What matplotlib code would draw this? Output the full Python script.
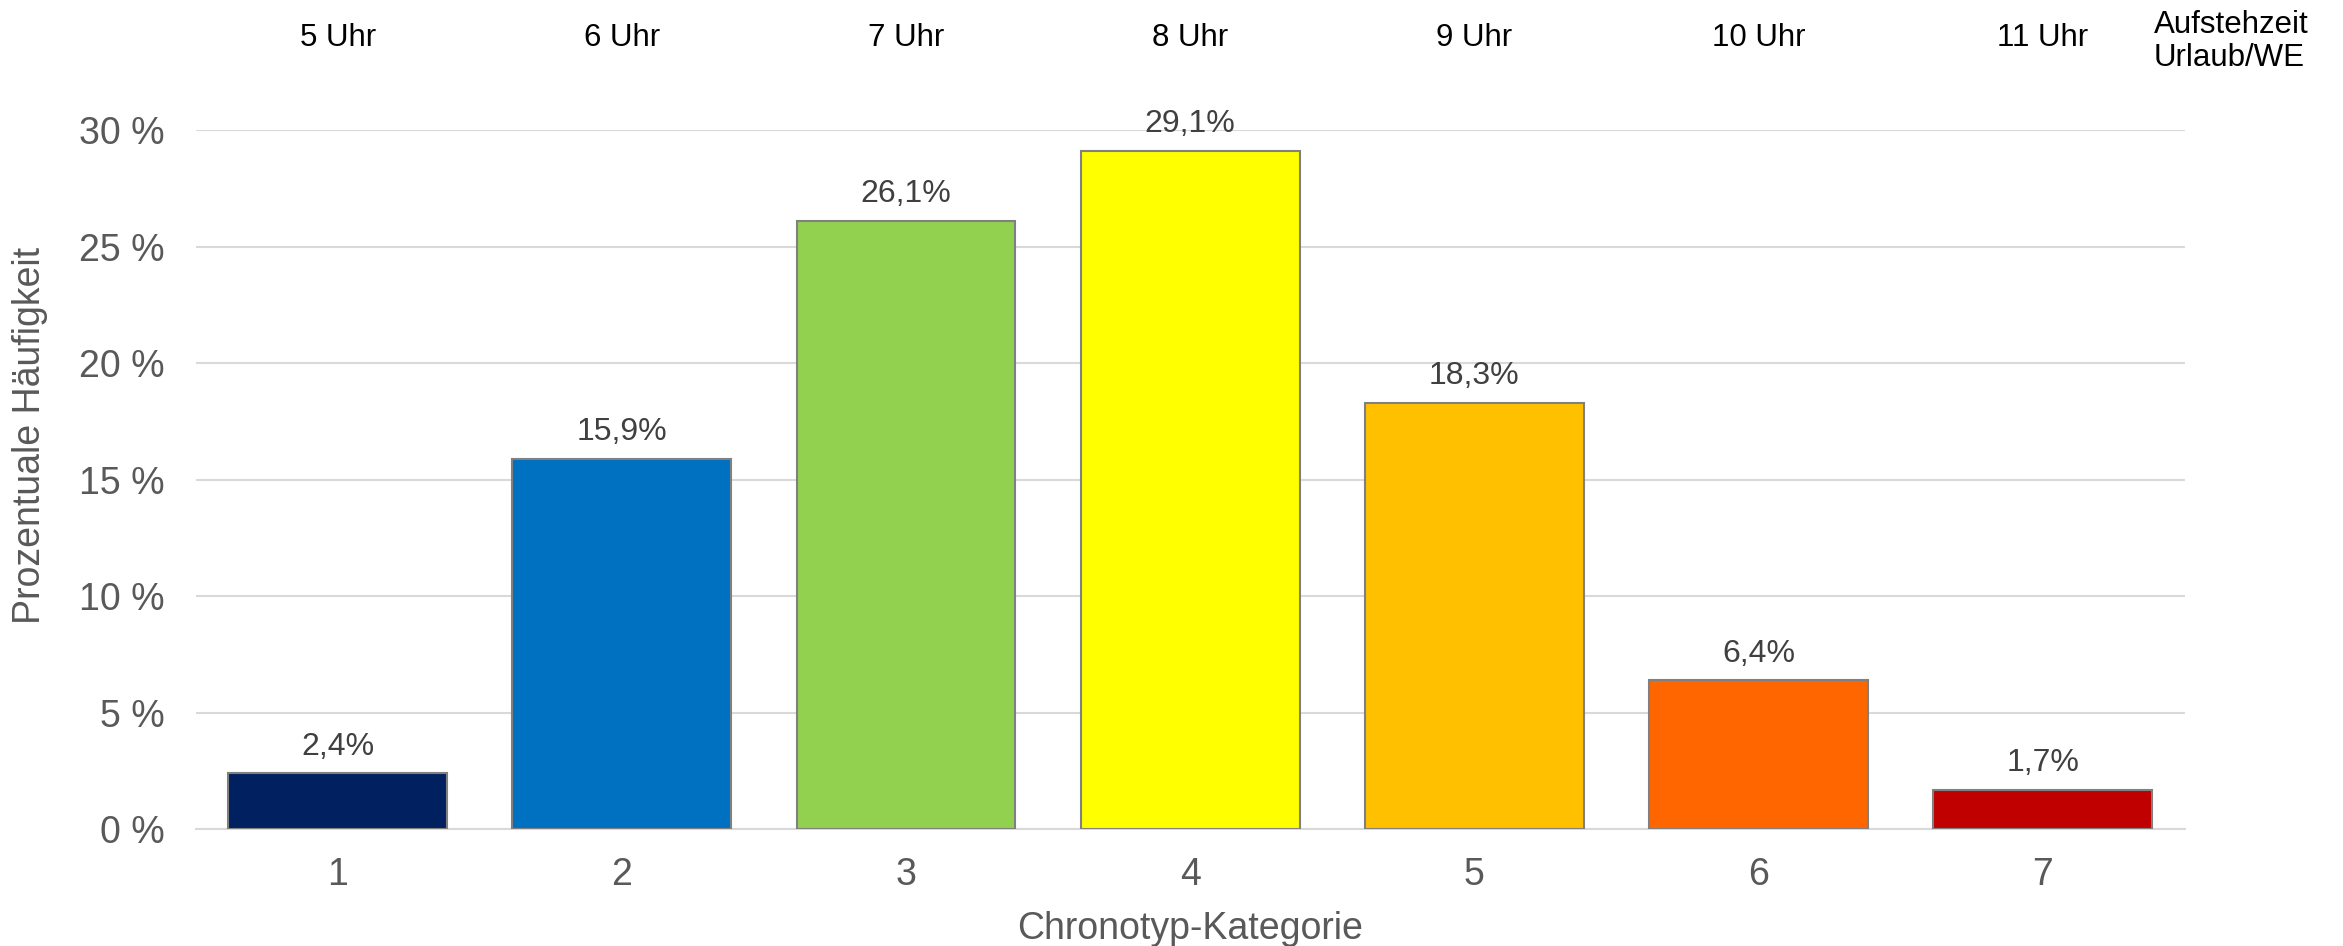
import matplotlib.pyplot as plt
from matplotlib.ticker import FuncFormatter
from matplotlib.transforms import blended_transform_factory

plt.rcParams['font.family'] = ['Liberation Sans', 'DejaVu Sans']

kategorien = [1, 2, 3, 4, 5, 6, 7]
anteile = [2.4, 15.9, 26.1, 29.1, 18.3, 6.4, 1.7]
aufstehzeit = ['5 Uhr', '6 Uhr', '7 Uhr', '8 Uhr', '9 Uhr', '10 Uhr', '11 Uhr']
farben = ['#002060', '#0070C0', '#92D050', '#FFFF00', '#FFC000', '#FF6600', '#C00000']

fig = plt.figure(figsize=(23.43, 9.46), dpi=100)
ax = fig.add_axes([0.0835, 0.1232, 0.849, 0.7394])

ax.bar(kategorien, anteile, width=0.77, color=farben, edgecolor='#808080',
       linewidth=1.5, zorder=3)

for k, v in zip(kategorien, anteile):
    ax.text(k, v + 0.5, ('%.1f%%' % v).replace('.', ','), ha='center', va='bottom',
            fontsize=23, color='#404040')

# Aufstehzeiten über den Balken
trans = blended_transform_factory(ax.transData, fig.transFigure)
for k, t in zip(kategorien, aufstehzeit):
    ax.text(k, 0.96, t, transform=trans, ha='center', va='center',
            fontsize=22.5, color='black')
ax.text(7.39, 0.956, 'Aufstehzeit\nUrlaub/WE', transform=trans,
        ha='left', va='center', fontsize=22.5, color='black', linespacing=1.1)

ax.set_xlim(0.5, 7.5)
ax.set_ylim(0, 30)
ax.set_yticks(range(0, 31, 5))
ax.yaxis.set_major_formatter(FuncFormatter(lambda y, _: '%d %%' % y))
ax.set_xticks(kategorien)
ax.tick_params(length=0, labelsize=27, labelcolor='#595959', pad=20)
ax.tick_params(axis='y', pad=22)

ax.grid(axis='y', color='#D9D9D9', linewidth=1.5, zorder=0)
for s in ['top', 'right', 'left']:
    ax.spines[s].set_visible(False)
ax.spines['bottom'].set_color('#D9D9D9')
ax.spines['bottom'].set_linewidth(1.5)

ax.set_xlabel('Chronotyp-Kategorie', fontsize=27, color='#595959', labelpad=13)
ax.set_ylabel('Prozentuale Häufigkeit', fontsize=27, color='#595959', labelpad=22)
ax.yaxis.set_label_coords(-0.074, 0.564)

fig.savefig('out.png', dpi=100)
